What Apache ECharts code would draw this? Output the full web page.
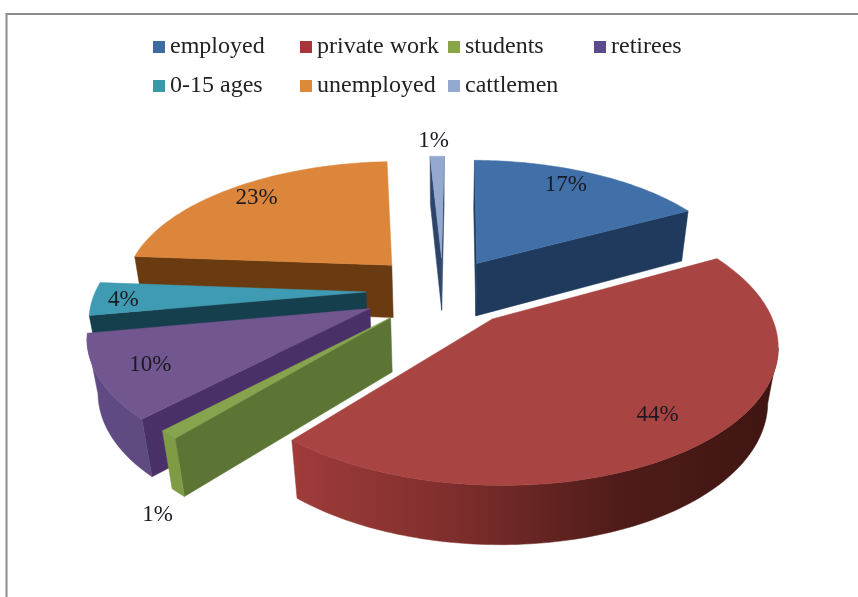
<!DOCTYPE html>
<html>
<head>
<meta charset="utf-8">
<style>html,body{margin:0;padding:0;background:#fff}#chart{width:858px;height:597px}</style>
<script src="https://cdn.jsdelivr.net/npm/echarts@6/dist/echarts.min.js"></script>
</head>
<body>
<div id="chart"></div>
<script>
// Occupation shares, clockwise from twelve o'clock
const categories = ['employed', 'private work', 'students', 'retirees', '0-15 ages', 'unemployed', 'cattlemen'];
const shares = [17, 44, 1, 10, 4, 23, 1];

// Palette per slice: top face, cut face, outer wall (left to right)
const topColors = ['#4170a8', '#a84442', '#86a44e', '#72568f', '#3f9ab3', '#dc863c', '#93a9d0'];
const cutColors = ['#1f3a5c', '#5a201e', '#5c7434', '#4a3068', '#163f4e', '#6a3a10', '#2e4468'];
const wallColors = [
  ['#1f3a5c', '#1f3a5c'],
  ['#a03c3a', '#7e2e2c', '#501c19', '#3e1512'],
  ['#7f9c45', '#7f9c45'],
  ['#604a84', '#5f4a80'],
  ['#163f4e', '#1f5566'],
  ['#6a3a10', '#6a3a10'],
  ['#2e4468', '#2e4468']
];
const legendColors = ['#3f6ba3', '#a8343c', '#8aa548', '#5c4a8c', '#3b98a6', '#dc8a38', '#93a9cf'];

// How far each slice is pulled out, in pie radii
const sliceExplode = [0.25, 0.28, 0.28, 0.30, 0.285, 0.28, 0.26];

// Radial distance and drop of each percentage label, in pie radii and wall heights
const labelRadius = [0.8, 0.82, 1.02, 0.857, 0.87, 0.77, 1.15];
const labelDrop = [0, 0, 1.15, 0, 0, 0, 0];
// Fine placement of the percentage labels, in pixels
const labelNudgeX = [-5, -3, -17, 10, -5, -10, -3];
const labelNudgeY = [-5, -3, 11, -2, 2, -6, -2];

// Legend slots
const legendLeft = [153, 300, 448, 594, 153, 300, 448];
const legendTop = [35, 35, 35, 35, 74, 74, 74];

// Tilted disc with a slight perspective; the lower plane sits further from the eye
const view = { cx: 443, cy: 290, radius: 270, tilt: 0.475, depth: 0.165, lowerDepth: 0.03, height: 55, turn: 0.6 };

const total = shares.reduce((a, b) => a + b, 0);

function project(x, y, z) {
  const s = 1 / (1 - y * view.depth + z * view.lowerDepth);
  return [
    view.cx + view.radius * x * s,
    view.cy + view.radius * view.tilt * y * s + view.height * z * s
  ];
}

function sliceAngles(index) {
  let before = 0;
  for (let i = 0; i < index; i++) before += shares[i];
  const start = before / total * Math.PI * 2 + view.turn * Math.PI / 180;
  const end = start + shares[index] / total * Math.PI * 2;
  return { start, end, mid: (start + end) / 2 };
}

function renderSlice(params, api) {
  const i = params.seriesIndex;
  const { start, mid } = sliceAngles(i);
  const sweep = api.value(0) / total * Math.PI * 2;
  const ox = Math.sin(mid) * sliceExplode[i];
  const oy = -Math.cos(mid) * sliceExplode[i];
  const at = (angle, r, z) => project(ox + Math.sin(angle) * r, oy - Math.cos(angle) * r, z);

  const steps = Math.max(3, Math.ceil(sweep / 0.02));
  const rim = [];
  const rimLow = [];
  for (let k = 0; k <= steps; k++) {
    const a = start + sweep * k / steps;
    rim.push(at(a, 1, 0));
    rimLow.push(at(a, 1, 1));
  }
  const apex = project(ox, oy, 0);
  const apexLow = project(ox, oy, 1);
  const children = [];
  const face = (points, fill) => children.push({
    type: 'polygon',
    shape: { points },
    style: { fill, stroke: fill, lineWidth: 0.5 }
  });

  // Walls only show under edges running right to left on screen
  const first = rim[0];
  const last = rim[rim.length - 1];
  if (first[0] < apex[0]) {
    face([apex, first, rimLow[0], apexLow], cutColors[i]);
  }
  if (apex[0] < last[0]) {
    face([last, apex, apexLow, rimLow[rimLow.length - 1]], cutColors[i]);
  }
  const upper = [];
  const lower = [];
  for (let k = 0; k < steps; k++) {
    if (rim[k + 1][0] < rim[k][0]) {
      if (!upper.length) { upper.push(rim[k]); lower.push(rimLow[k]); }
      upper.push(rim[k + 1]);
      lower.push(rimLow[k + 1]);
    }
  }
  if (upper.length) {
    const stops = wallColors[i];
    face(upper.concat(lower.slice().reverse()), {
      type: 'linear', x: 1, y: 0, x2: 0, y2: 0,
      colorStops: stops.map((c, n) => ({ offset: n / (stops.length - 1), color: stops[stops.length - 1 - n] }))
    });
  }
  face([apex].concat(rim), topColors[i]);

  const labelAt = at(mid, labelRadius[i], labelDrop[i]);
  children.push({
    type: 'text',
    z2: 10,
    style: {
      text: api.value(0) + '%',
      x: labelAt[0] + labelNudgeX[i],
      y: labelAt[1] + labelNudgeY[i],
      align: 'center',
      verticalAlign: 'middle',
      fill: '#1a1a22',
      font: '23px "Liberation Serif", serif'
    }
  });
  return { type: 'group', children };
}

// Slices nearer the viewer paint later
const depthRank = categories
  .map((_, i) => ({ i, back: Math.cos(sliceAngles(i).mid) }))
  .sort((a, b) => b.back - a.back)
  .map(d => d.i);

const chart = echarts.init(document.getElementById('chart'), null, { renderer: 'canvas' });
chart.setOption({
  backgroundColor: '#ffffff',
  animation: false,
  legend: categories.map((name, i) => ({
    data: [name],
    left: legendLeft[i],
    top: legendTop[i],
    icon: 'rect',
    itemWidth: 12,
    itemHeight: 12,
    itemGap: 0,
    padding: 0,
    selectedMode: false,
    textStyle: { fontFamily: '"Liberation Serif", serif', fontSize: 24, color: '#222' }
  })),
  graphic: [{
    type: 'polyline',
    silent: true,
    shape: { points: [[6.5, 597], [6.5, 14], [858, 14]] },
    style: { stroke: '#8c8c8c', fill: null, lineWidth: 2 }
  }],
  series: categories.map((name, i) => ({
    type: 'custom',
    name,
    coordinateSystem: 'none',
    z: 2 + depthRank.indexOf(i),
    silent: true,
    itemStyle: { color: legendColors[i] },
    renderItem: renderSlice,
    data: [[shares[i]]]
  }))
});
</script>
</body>
</html>
